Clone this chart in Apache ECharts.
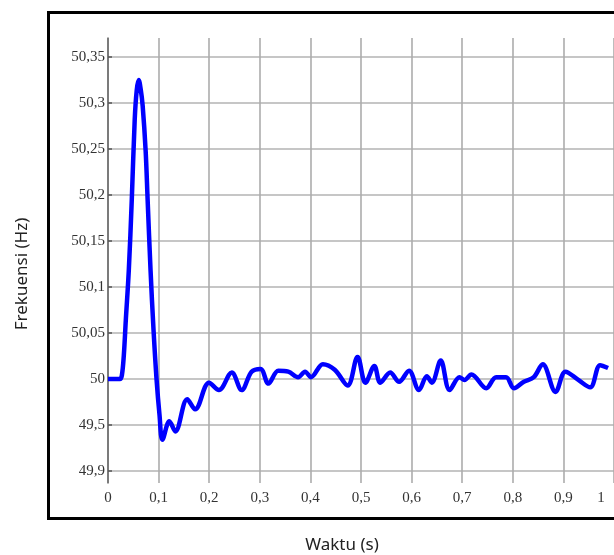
<!DOCTYPE html>
<html>
<head>
<meta charset="utf-8">
<script src="https://cdn.jsdelivr.net/npm/echarts@6/dist/echarts.min.js"></script>
<style>html,body{margin:0;padding:0;background:#fff;}#c{width:614px;height:555px;}</style>
</head>
<body>
<div id="c"></div>
<script>
const timeS = [0.000,0.0235,0.0274,0.0313,0.0352,0.0411,0.0470,0.0528,0.0568,0.0607,0.0646,0.0685,0.0744,0.0783,0.0841,0.0900,0.0959,0.1018,0.1076,0.1213,0.1331,0.1566,0.1722,0.1996,0.2192,0.2446,0.2642,0.2838,0.3014,0.3170,0.3366,0.3562,0.3757,0.3894,0.4012,0.4247,0.4481,0.4736,0.4932,0.5088,0.5264,0.5382,0.5577,0.5753,0.5949,0.6145,0.6301,0.6399,0.6575,0.6751,0.6947,0.7045,0.7182,0.7476,0.7671,0.7867,0.8023,0.8219,0.8415,0.8591,0.8845,0.9041,0.9295,0.9530,0.9726,0.9883];
const freqHz = [50.000,50.000,50.004,50.026,50.064,50.118,50.195,50.282,50.314,50.325,50.315,50.297,50.248,50.195,50.118,50.053,50.000,49.961,49.934,49.954,49.943,49.978,49.967,49.996,49.988,50.007,49.988,50.008,50.011,49.995,50.009,50.008,50.002,50.008,50.002,50.016,50.010,49.993,50.024,49.996,50.014,49.996,50.007,49.997,50.009,49.988,50.003,49.996,50.020,49.988,50.002,49.999,50.005,49.990,50.002,50.002,49.990,49.997,50.002,50.016,49.986,50.008,49.999,49.991,50.015,50.012];
const yTickLabels = ['49,9','49,5','50','50,05','50,1','50,15','50,2','50,25','50,3','50,35'];
const xTickLabels = ['0','0,1','0,2','0,3','0,4','0,5','0,6','0,7','0,8','0,9','1'];

const chart = echarts.init(document.getElementById('c'), null, {renderer:'canvas'});
const serif = '"Liberation Serif", "DejaVu Serif", serif';
chart.setOption({
  animation:false,
  backgroundColor:'#ffffff',
  grid:[
    {left:108, right:-5, top:57, bottom:84},
    {left:108, right:-5, top:38, bottom:72}
  ],
  xAxis:[
    {gridIndex:0, type:'value', min:0, max:1, show:false},
    {gridIndex:1, type:'value', min:0, max:1, interval:0.1,
      axisLine:{show:false}, axisTick:{show:false},
      splitLine:{show:true, lineStyle:{color:'#acacac', width:1.6}},
      axisLabel:{margin:8, fontFamily:serif, fontSize:15, color:'#333',
        formatter:function(v){const i=Math.round(v*10); const s=xTickLabels[i]; return i===10?'{last|'+s+'}':s;},
        rich:{last:{fontFamily:serif, fontSize:15, color:'#333', padding:[0,26,0,0]}}
      }
    }
  ],
  yAxis:[
    {gridIndex:0, type:'value', min:49.9, max:50.35, interval:0.05,
      axisLine:{show:false},
      axisTick:{show:true, inside:true, length:4, lineStyle:{color:'#555', width:1.5}},
      splitLine:{show:true, lineStyle:{color:'#c6c6c6', width:2}},
      axisLabel:{margin:3, fontFamily:serif, fontSize:15, color:'#333',
        formatter:function(v){return yTickLabels[Math.round((v-49.9)/0.05)];}}
    },
    {gridIndex:1, type:'value', min:0, max:1,
      axisLine:{show:true, lineStyle:{color:'#666', width:1.5}},
      axisTick:{show:false}, axisLabel:{show:false}, splitLine:{show:false}
    }
  ],
  series:[{
    type:'line', xAxisIndex:0, yAxisIndex:0,
    data: timeS.map((t,i)=>[t,freqHz[i]]),
    smooth:0.35, showSymbol:false, clip:true,
    lineStyle:{color:'#0000ff', width:4.5}
  }],
  graphic:[
    {type:'rect', shape:{x:48.5, y:12.5, width:600, height:506}, style:{fill:null, stroke:'#000', lineWidth:3}, z:100},
    {type:'text', x:22, y:274, rotation:Math.PI/2, style:{text:'Frekuensi (Hz)', font:'17px "Noto Sans", sans-serif', fill:'#222', textAlign:'center', textVerticalAlign:'middle'}},
    {type:'text', x:342, y:545, style:{text:'Waktu (s)', font:'17px "Noto Sans", sans-serif', fill:'#222', textAlign:'center', textVerticalAlign:'middle'}}
  ]
});
</script>
</body>
</html>
